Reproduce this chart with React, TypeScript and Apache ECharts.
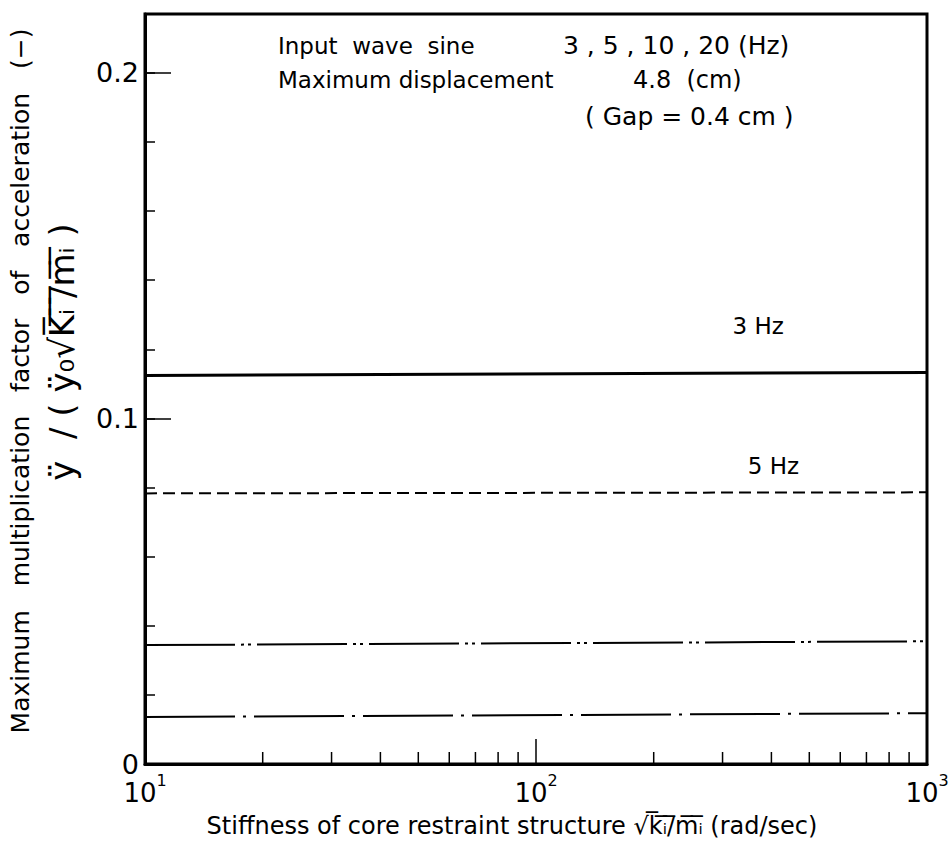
import React, { useEffect, useRef } from "react";
import * as echarts from "echarts";

// x: stiffness sqrt(ki/mi) (rad/sec), log scale
const xRange = [10, 1000];
const yRange = [0, 0.217];
const yLabelValues = [0, 0.1, 0.2];
const yLabelTexts = ["0", "0.1", "0.2"];
const xMinorTicks = [20, 30, 40, 50, 60, 70, 80, 90, 200, 300, 400, 500, 600, 700, 800, 900];

// values at the left end (10) and right end (1000)
const hz3 = [0.1124, 0.1133];
const hz5 = [0.0783, 0.0786];
const hz10 = [0.0344, 0.0355];
const hz20 = [0.0136, 0.0147];

const labelPos3 = [370, 0.1124];
const labelPos5 = [405, 0.0783];

const FONT = "DejaVu Sans";

export default function App() {
  const ref = useRef<HTMLDivElement>(null);
  useEffect(() => {
    const chart = echarts.init(ref.current!, null, { renderer: "svg" });
    const mk = (v: number[]) => [
      [xRange[0], v[0]],
      [xRange[1], v[1]],
    ];
    const lineSeries = (name: string, vals: number[], type: any, width: number, extra: any = {}) => ({
      name,
      type: "line",
      data: mk(vals),
      symbol: "none",
      silent: true,
      lineStyle: { color: "#000", width, type },
      ...extra,
    });
    const mp = (txt: string, coord: number[], dy: number) => ({
      symbol: "circle",
      symbolSize: 0,
      silent: true,
      data: [
        {
          coord,
          label: {
            show: true,
            formatter: txt,
            position: "inside",
            offset: [0, dy],
            color: "#000",
            fontSize: 23,
            fontFamily: FONT,
          },
        },
      ],
    });
    chart.setOption({
      animation: false,
      backgroundColor: "#fff",
      grid: {
        left: 145,
        top: 14,
        width: 782,
        height: 750,
        show: true,
        borderColor: "#000",
        borderWidth: 3,
      },
      xAxis: {
        type: "log",
        logBase: 10,
        min: xRange[0],
        max: xRange[1],
        axisLine: { lineStyle: { color: "#000", width: 3 } },
        axisTick: { inside: true, length: 25, lineStyle: { color: "#000", width: 1.5 } },
        splitLine: { show: false },
        axisLabel: {
          margin: 8,
          formatter: (v: number) => `{b|10}{s|${Math.round(Math.log10(v))}}`,
          rich: {
            b: { fontSize: 26, fontFamily: FONT, color: "#000", padding: [8, 0, 0, 0] },
            s: { fontSize: 16, fontFamily: FONT, color: "#000", verticalAlign: "top", padding: [0, 0, 8, 0] },
          },
        },
      },
      yAxis: [
        {
          type: "value",
          min: yRange[0],
          max: yRange[1],
          interval: 0.02,
          position: "left",
          axisLine: { show: true, lineStyle: { color: "#000", width: 3 } },
          axisTick: { inside: true, length: 10, lineStyle: { color: "#000", width: 1.5 } },
          splitLine: { show: false },
          axisLabel: {
            margin: 6,
            color: "#000",
            fontSize: 27,
            fontFamily: FONT,
            formatter: (v: number) => {
              for (let i = 0; i < yLabelValues.length; i++) {
                if (Math.abs(v - yLabelValues[i]) < 1e-9) return yLabelTexts[i];
              }
              return "";
            },
          },
        },
        {
          type: "value",
          min: yRange[0],
          max: yRange[1],
          interval: 0.1,
          position: "left",
          axisLine: { show: false },
          axisTick: { inside: true, length: 26, lineStyle: { color: "#000", width: 1.5 } },
          splitLine: { show: false },
          axisLabel: { show: false },
        },
      ],
      series: [
        lineSeries("3 Hz", hz3, "solid", 3, { markPoint: mp("3 Hz", labelPos3, -50) }),
        lineSeries("5 Hz", hz5, [12, 6], 2, { markPoint: mp("5 Hz", labelPos5, -27) }),
        lineSeries("10 Hz", hz10, [90, 6, 3, 4, 3, 6], 2),
        lineSeries("20 Hz", hz20, [90, 8, 3, 8], 2),
        {
          type: "custom",
          silent: true,
          clip: false,
          data: xMinorTicks.map((x) => [x, 0]),
          encode: { x: 0, y: 1 },
          renderItem: (params: any, api: any) => {
            const p = api.coord([api.value(0), api.value(1)]);
            return {
              type: "line",
              shape: { x1: p[0], y1: p[1], x2: p[0], y2: p[1] - 12 },
              style: { stroke: "#000", lineWidth: 1.5 },
            };
          },
        },
      ],
      graphic: [
        {
          type: "text",
          left: 278,
          top: 34,
          style: { text: "Input  wave  sine", fontSize: 23, fontFamily: FONT, fill: "#000" },
        },
        {
          type: "text",
          left: 563,
          top: 33,
          style: { text: "3 , 5 , 10 , 20 (Hz)", fontSize: 25, fontFamily: FONT, fill: "#000" },
        },
        {
          type: "text",
          left: 278,
          top: 68,
          style: { text: "Maximum displacement", fontSize: 23, fontFamily: FONT, fill: "#000" },
        },
        {
          type: "text",
          left: 633,
          top: 68,
          style: { text: "4.8  (cm)", fontSize: 24, fontFamily: FONT, fill: "#000" },
        },
        {
          type: "text",
          left: 585,
          top: 104,
          style: { text: "( Gap = 0.4 cm )", fontSize: 25, fontFamily: FONT, fill: "#000" },
        },
        {
          type: "text",
          x: 20,
          y: 381,
          rotation: Math.PI / 2,
          style: {
            text: "Maximum   multiplication   factor   of   acceleration   (−)",
            fontSize: 25,
            fontFamily: FONT,
            fill: "#000",
            align: "center",
            verticalAlign: "middle",
          },
        },
        {
          type: "text",
          x: 62,
          y: 352,
          rotation: Math.PI / 2,
          style: {
            text: "ÿ  / ( ÿ\u2080√K̅ᵢ̅ ̅/̅m̅ᵢ̅ )",
            fontSize: 34,
            fontFamily: FONT,
            fill: "#000",
            align: "center",
            verticalAlign: "middle",
          },
        },
        {
          type: "text",
          x: 512,
          y: 826,
          style: {
            text: "Stiffness of core restraint structure √k̅ᵢ̅/̅m̅ᵢ̅ (rad/sec)",
            fontSize: 24,
            fontFamily: FONT,
            fill: "#000",
            align: "center",
            verticalAlign: "middle",
          },
        },
      ],
    });
    return () => chart.dispose();
  }, []);
  return (
    <div
      ref={ref}
      style={{ position: "absolute", left: 0, top: 0, width: 952, height: 848 }}
    />
  );
}
